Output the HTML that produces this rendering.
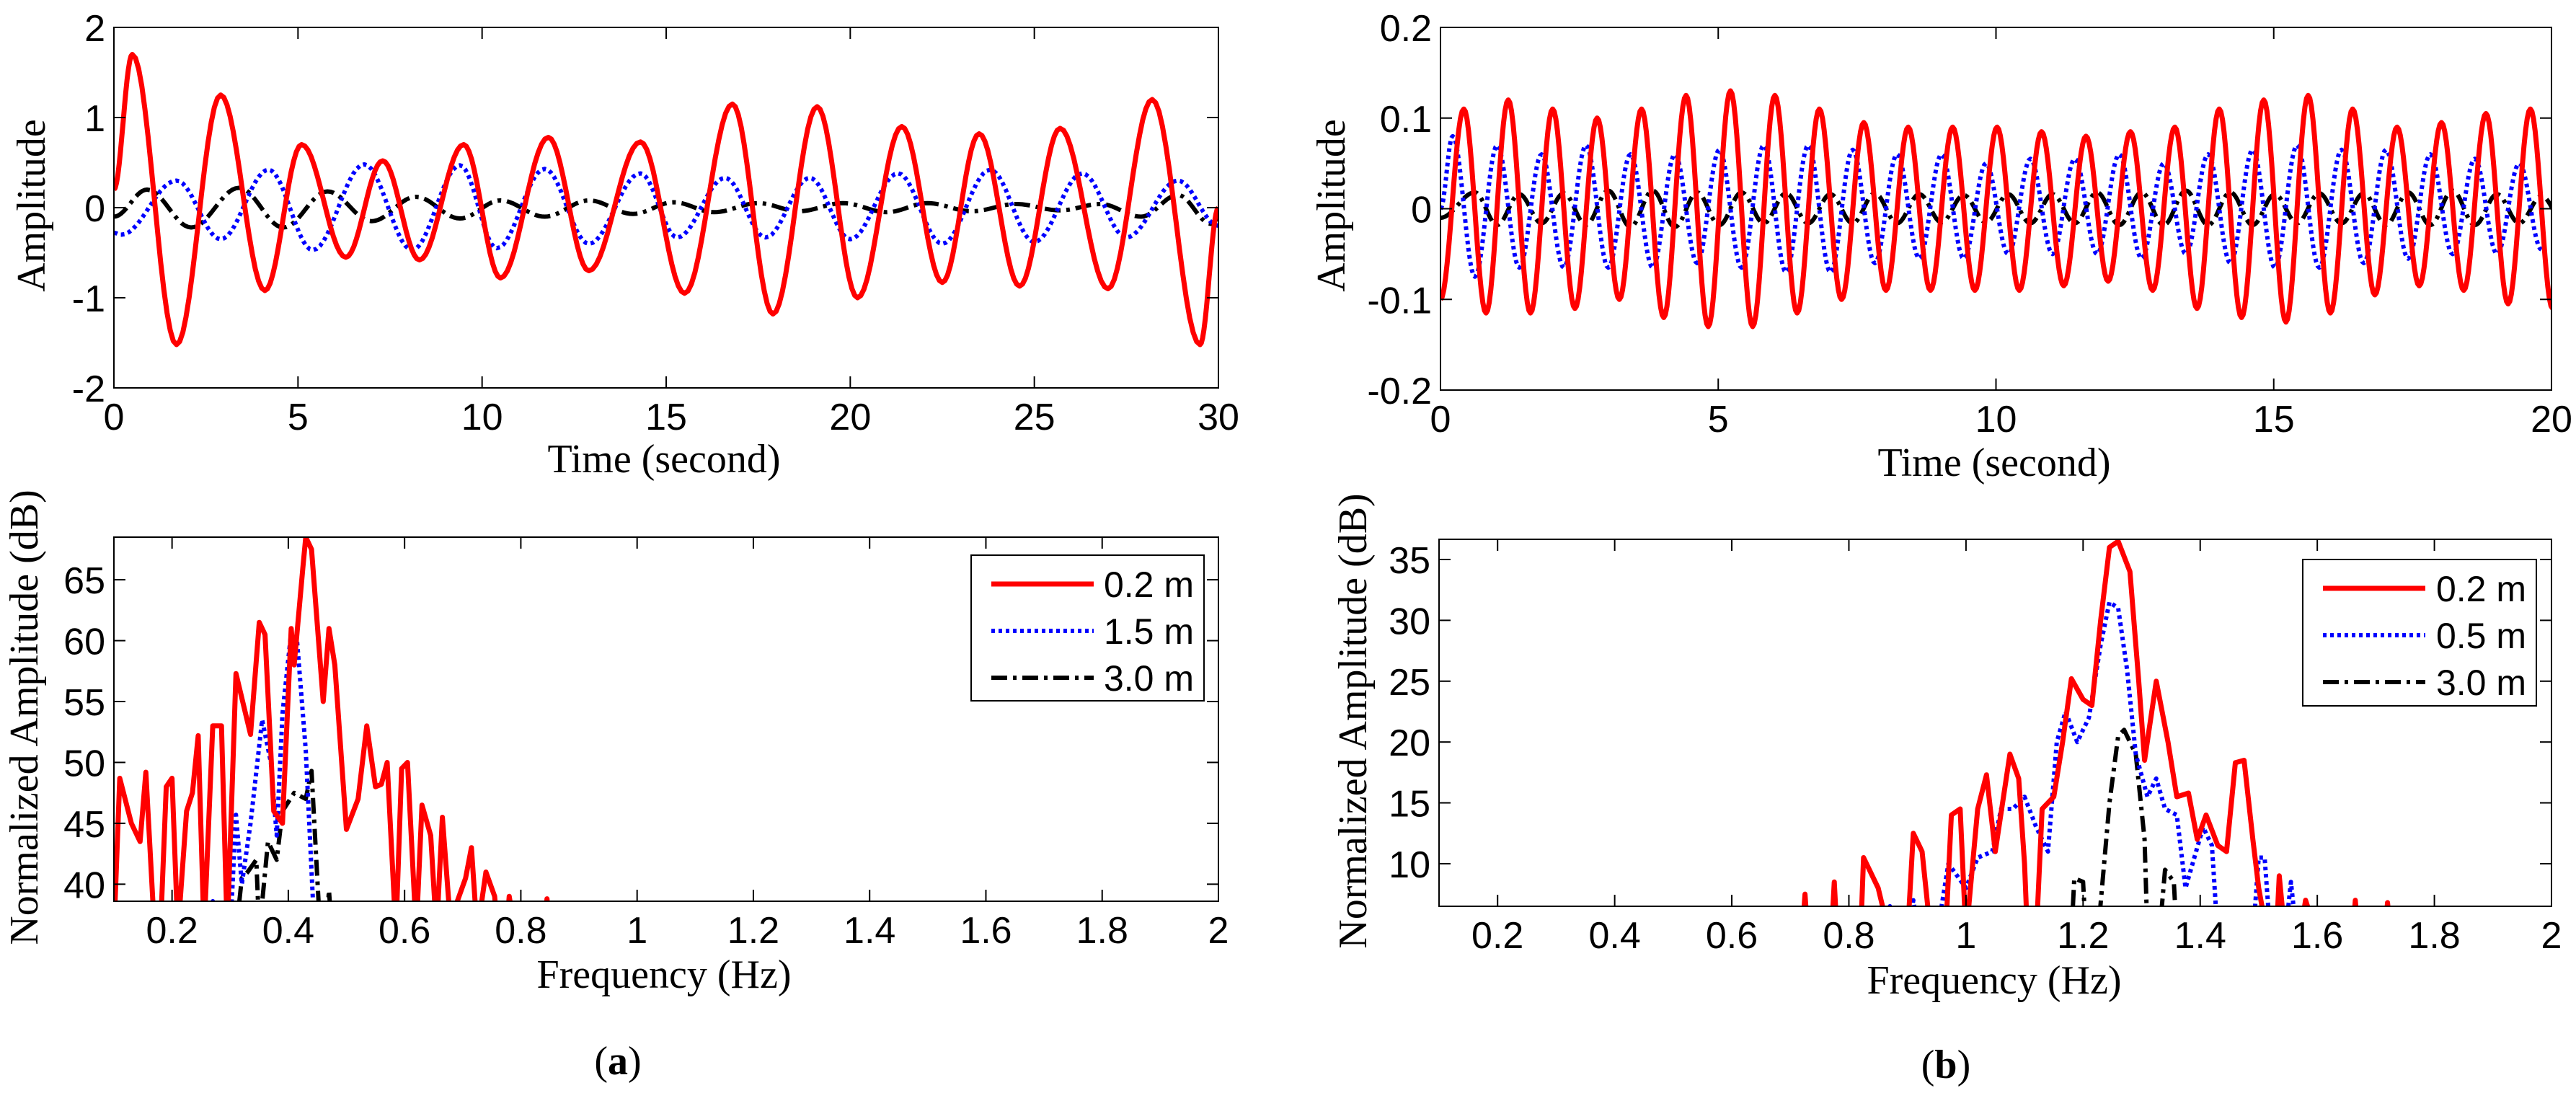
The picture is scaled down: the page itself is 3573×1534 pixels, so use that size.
<!DOCTYPE html>
<html><head><meta charset="utf-8"><style>
html,body{margin:0;padding:0;background:#fff;}
svg{display:block;}
.tick{font-family:"Liberation Sans",sans-serif;font-size:52px;fill:#000;}
.lab{font-family:"Liberation Serif",serif;font-size:56px;fill:#000;}
.leg{font-family:"Liberation Sans",sans-serif;font-size:50px;fill:#000;}
</style></head><body>
<svg id="fig" width="3573" height="1534" viewBox="0 0 3573 1534" xmlns="http://www.w3.org/2000/svg"></svg>
<script>
// ---------- DATA ----------
const aRedT=[0,0.5,1.7,2.9,4.1,5.1,6.3,7.3,8.3,9.5,10.5,11.8,12.9,14.3,15.5,16.8,17.9,19.1,20.2,21.4,22.5,23.5,24.6,25.7,27.0,28.2,29.5,30];
const aRedV=[0.2,1.7,-1.52,1.25,-0.92,0.7,-0.55,0.52,-0.58,0.7,-0.78,0.78,-0.7,0.73,-0.95,1.15,-1.18,1.12,-1.0,0.9,-0.83,0.82,-0.87,0.88,-0.9,1.2,-1.52,0.0];
const aBlueT=[0,0.2,1.7,2.9,4.2,5.4,6.8,8.1,9.4,10.4,11.7,12.9,14.3,15.3,16.6,17.7,18.9,20.0,21.3,22.5,23.8,25.0,26.3,27.5,28.9,30];
const aBlueV=[-0.28,-0.3,0.3,-0.35,0.42,-0.47,0.48,-0.47,0.47,-0.45,0.43,-0.4,0.38,-0.33,0.33,-0.33,0.33,-0.35,0.38,-0.4,0.42,-0.38,0.38,-0.33,0.3,-0.2];
const aBlackT=[0,0.9,2.1,3.4,4.6,5.8,7.0,8.2,9.4,10.5,11.7,12.9,14.1,15.2,16.3,17.5,18.6,19.8,21.0,22.1,23.3,24.5,25.7,26.8,27.9,28.9,29.8,30];
const aBlackV=[-0.1,0.2,-0.22,0.22,-0.22,0.18,-0.15,0.12,-0.12,0.08,-0.1,0.08,-0.07,0.06,-0.05,0.05,-0.04,0.05,-0.05,0.05,-0.04,0.04,-0.03,0.04,-0.1,0.14,-0.18,-0.12];
const bPeriod=0.8;
const bRedPeaks=[0.11,0.12,0.11,0.10,0.11,0.125,0.13,0.125,0.11,0.095,0.09,0.09,0.09,0.085,0.08,0.085,0.09,0.11,0.12,0.125,0.11,0.09,0.095,0.105,0.11];
const bRedTroughs=[-0.115,-0.115,-0.11,-0.10,-0.12,-0.13,-0.13,-0.115,-0.10,-0.09,-0.09,-0.09,-0.09,-0.085,-0.08,-0.09,-0.11,-0.12,-0.125,-0.115,-0.095,-0.085,-0.09,-0.105,-0.11];
const bRedStart=[0,-0.1];
const bRedPhase=0.42;
const bBluePeaks=[0.08,0.07,0.06,0.07,0.06,0.06,0.065,0.07,0.07,0.065,0.06,0.06,0.05,0.055,0.055,0.06,0.05,0.06,0.065,0.07,0.065,0.065,0.06,0.055,0.05];
const bBlueTroughs=[-0.075,-0.065,-0.065,-0.065,-0.065,-0.06,-0.065,-0.07,-0.07,-0.06,-0.055,-0.055,-0.05,-0.05,-0.05,-0.055,-0.05,-0.06,-0.065,-0.065,-0.06,-0.055,-0.05,-0.05,-0.045];
const bBlueStart=[0,0.0];
const bBluePhase=0.22;
const bBlackPeaks=[0.018,0.016,0.017,0.02,0.02,0.018,0.018,0.017,0.016,0.017,0.016,0.015,0.016,0.016,0.018,0.018,0.02,0.018,0.016,0.017,0.017,0.018,0.02,0.016,0.014];
const bBlackTroughs=[-0.018,-0.016,-0.018,-0.02,-0.02,-0.018,-0.016,-0.016,-0.016,-0.016,-0.015,-0.015,-0.016,-0.016,-0.018,-0.018,-0.018,-0.018,-0.016,-0.016,-0.018,-0.018,-0.018,-0.016,-0.014];
const bBlackStart=[0,-0.01];
const bBlackPhase=0.62;
const aRedF=[0.10,0.11,0.13,0.145,0.155,0.17,0.18,0.19,0.20,0.21,0.225,0.235,0.245,0.255,0.27,0.285,0.295,0.31,0.335,0.35,0.36,0.375,0.39,0.405,0.41,0.425,0.43,0.44,0.46,0.47,0.48,0.50,0.52,0.535,0.55,0.56,0.57,0.585,0.595,0.605,0.62,0.63,0.645,0.655,0.665,0.68,0.69,0.705,0.715,0.725,0.74,0.755,0.76,0.775,0.78,0.79,0.80,0.84,0.845,0.85];
const aRedDB=[36,48.7,45,43.5,49.2,36,36,48,48.7,36,46,47.5,52.2,36,53,53,36,57.3,52.3,61.5,60.5,46,45,61,58,66,68.5,67.5,55,61,58,44.5,47,53,48,48.2,50,36,49.5,50,36,46.5,44,36,45.5,36,38.5,40.5,43,36,41,39,36,36,39,36,36,36,38.8,36];
const aBlueF=[0.265,0.27,0.275,0.30,0.31,0.32,0.335,0.355,0.37,0.38,0.39,0.405,0.415,0.43,0.445];
const aBlueDB=[36,38.6,36,36,45.7,40,45,53.5,50,44,54,60.7,60,51,36];
const aBlackF=[0.31,0.32,0.33,0.345,0.35,0.365,0.38,0.39,0.41,0.43,0.44,0.455,0.465,0.47,0.475];
const aBlackDB=[36,40.5,41,42,36,43.5,42,46,47.5,47,49.3,36,36,39.5,36];
const bRedF=[0.72,0.725,0.73,0.77,0.775,0.78,0.82,0.825,0.85,0.87,0.90,0.91,0.925,0.94,0.965,0.975,0.99,1.0,1.02,1.035,1.05,1.075,1.09,1.10,1.105,1.12,1.13,1.15,1.165,1.18,1.20,1.215,1.23,1.245,1.26,1.28,1.295,1.305,1.325,1.345,1.36,1.38,1.395,1.41,1.43,1.445,1.46,1.475,1.49,1.50,1.515,1.53,1.535,1.545,1.57,1.58,1.60,1.66,1.665,1.67,1.715,1.72,1.725];
const bRedDB=[4,7.5,4,4,8.5,4,4,10.5,8,4,4,12.5,11,4,4,14,14.5,4,14.5,17.3,11,19,17,10,4,4,14.5,15.5,20,25.2,23.5,23,30,36,36.5,34,25,18.5,25,20,15.5,15.8,12,14,11.5,11,18.3,18.5,12,8,4,4,9,4,4,7,4,4,7,4,4,6.8,4];
const bBlueF=[0.86,0.87,0.88,0.90,0.91,0.92,0.95,0.97,0.985,1.0,1.02,1.045,1.06,1.08,1.10,1.12,1.14,1.155,1.17,1.19,1.21,1.23,1.245,1.26,1.275,1.29,1.31,1.325,1.34,1.36,1.375,1.39,1.405,1.42,1.43,1.49,1.50,1.51,1.52,1.545,1.555,1.565];
const bBlueDB=[4,6.5,4,4,7,4,4,10,9,8,10.5,11,14.5,14.5,15.5,13,11,20,22.5,20,22,28,31.5,31,26,19,15.5,17,14.5,14,8,10.5,13,11.5,4,4,10.5,10.5,4,4,8.5,4];
const bBlackF=[1.18,1.185,1.20,1.205,1.225,1.245,1.26,1.27,1.29,1.305,1.31,1.33,1.34,1.355,1.36];
const bBlackDB=[4,8.8,8.5,4,4,15,20.5,21,19,12,4,4,9.5,8.5,4];
const aTopXTicks=[0,5,10,15,20,25,30];
const aTopYTicks=[-2,-1,0,1,2];
const bTopXTicks=[0,5,10,15,20];
const bTopYTicks=[-0.2,-0.1,0,0.1,0.2];
const freqTicks=[0.2,0.4,0.6,0.8,1,1.2,1.4,1.6,1.8,2];
const aBotYTicks=[40,45,50,55,60,65];
const bBotYTicks=[10,15,20,25,30,35];
const aLegend=["0.2 m","1.5 m","3.0 m"];
const bLegend=["0.2 m","0.5 m","3.0 m"];

// ---------- DRAWING ----------
const NS="http://www.w3.org/2000/svg";
const svg=document.getElementById('fig');
let clipId=0;
function el(tag,attrs,parent){const e=document.createElementNS(NS,tag);for(const k in attrs)e.setAttribute(k,attrs[k]);(parent||svg).appendChild(e);return e;}
const STY={red:{stroke:'#ff0000','stroke-width':7,fill:'none'},blue:{stroke:'#0000ff','stroke-width':6,'stroke-dasharray':'5 5',fill:'none'},black:{stroke:'#000','stroke-width':6,'stroke-dasharray':'22 8 5 8',fill:'none'}};

function axes(name,x0,x1,y0,y1,xmin,xmax,ymin,ymax,xt,yt,fmtX,fmtY){
  const g=el('g',{});
  
  
  const sx=v=>x0+(v-xmin)/(xmax-xmin)*(x1-x0);
  const sy=v=>y1-(v-ymin)/(ymax-ymin)*(y1-y0);
  const cid='c'+(clipId++);
  const cp=el('clipPath',{id:cid},g);el('rect',{x:x0,y:y0,width:x1-x0,height:y1-y0},cp);
  el('rect',{x:x0,y:y0,width:x1-x0,height:y1-y0,fill:'#fff',stroke:'none'},g);
  const plot=el('g',{'clip-path':'url(#'+cid+')'},g);
  xt.forEach(v=>{const x=sx(v);
    el('line',{x1:x,x2:x,y1:y1,y2:y1-16,stroke:'#000','stroke-width':2},g);
    el('line',{x1:x,x2:x,y1:y0,y2:y0+16,stroke:'#000','stroke-width':2},g);
    const t=el('text',{x:x,y:y1+58,'text-anchor':'middle',class:'tick'},g);t.textContent=fmtX(v);
    
    });
  yt.forEach(v=>{const y=sy(v);
    el('line',{x1:x0,x2:x0+16,y1:y,y2:y,stroke:'#000','stroke-width':2},g);
    el('line',{x1:x1,x2:x1-16,y1:y,y2:y,stroke:'#000','stroke-width':2},g);
    const t=el('text',{x:x0-12,y:y+19,'text-anchor':'end',class:'tick'},g);t.textContent=fmtY(v);
    
    });
  return {g,plot,sx,sy,box:[x0,x1,y0,y1]};
}
function frame(ax){const[x0,x1,y0,y1]=ax.box;el('rect',{x:x0,y:y0,width:x1-x0,height:y1-y0,fill:'none',stroke:'#000','stroke-width':2},ax.g);}
function line(ax,xs,ys,sty,name){
  const d=xs.map((x,i)=>(i?'L':'M')+ax.sx(x).toFixed(1)+' '+ax.sy(ys[i]).toFixed(1)).join('');
  const p=el('path',Object.assign({d:d,'stroke-linejoin':'round'},STY[sty]),ax.plot);
  
  
}
function smooth(ts,vs){const X=[],Y=[];for(let i=0;i<ts.length-1;i++){for(let s=0;s<14;s++){const f=s/14;X.push(ts[i]+(ts[i+1]-ts[i])*f);Y.push(vs[i]+(vs[i+1]-vs[i])*(1-Math.cos(Math.PI*f))/2);}}X.push(ts[ts.length-1]);Y.push(vs[vs.length-1]);return[X,Y];}
function cycles(start,phase,peaks,troughs){const T=[start[0]],V=[start[1]];peaks.forEach((p,i)=>{T.push(phase+i*bPeriod);V.push(p);T.push(phase+i*bPeriod+bPeriod/2);V.push(troughs[i]);});return[T,V];}
function label(txt,x,y,rot,name,cls,extra){const t=el('text',Object.assign({x:x,y:y,'text-anchor':'middle',class:cls||'lab'},extra||{}));if(rot)t.setAttribute('transform','rotate(-90 '+x+' '+y+')');t.textContent=txt;
  
  return t;}
function legend(ax,x0,y0,x1,y1,labels,name){
  const g=el('g',{},ax.g);
  
  
  el('rect',{x:x0,y:y0,width:x1-x0,height:y1-y0,fill:'#fff',stroke:'#000','stroke-width':2},g);
  ['red','blue','black'].forEach((s,i)=>{const y=y0+40+i*65;
    el('line',Object.assign({x1:x0+28,x2:x0+170,y1:y,y2:y},STY[s]),g);
    const t=el('text',{x:x1-14,y:y+18,'text-anchor':'end',class:'leg'},g);t.textContent=labels[i];
    
    });
}
const f0=v=>String(v), f1=v=>(v===0?'0':v.toFixed(1)), fF=v=>(Number.isInteger(v)?String(v):v.toFixed(1));

let A=axes('time-plot-a',158,1690,38,538,0,30,-2,2,aTopXTicks,aTopYTicks,f0,f0);
[[aBlackT,aBlackV,'black','series-3m'],[aBlueT,aBlueV,'blue','series-1-5m'],[aRedT,aRedV,'red','series-0-2m']].forEach(s=>{const[X,Y]=smooth(s[0],s[1]);line(A,X,Y,s[2],s[3]);});
frame(A);
let B=axes('spectrum-plot-a',158,1690,745,1250,0.1,2,38.6,68.5,freqTicks,aBotYTicks,fF,f0);
line(B,aBlackF,aBlackDB,'black','spectrum-3m');line(B,aBlueF,aBlueDB,'blue','spectrum-1-5m');line(B,aRedF,aRedDB,'red','spectrum-0-2m');
frame(B);legend(B,1347,770,1670,972,aLegend,'legend-a');
let C=axes('time-plot-b',1998,3539,38,541,0,20,-0.2,0.2,bTopXTicks,bTopYTicks,f0,f1);
[[cycles(bBlackStart,bBlackPhase,bBlackPeaks,bBlackTroughs),'black','series-3m'],[cycles(bBlueStart,bBluePhase,bBluePeaks,bBlueTroughs),'blue','series-0-5m'],[cycles(bRedStart,bRedPhase,bRedPeaks,bRedTroughs),'red','series-0-2m']].forEach(s=>{const[X,Y]=smooth(s[0][0],s[0][1]);line(C,X,Y,s[1],s[2]);});
frame(C);
let D=axes('spectrum-plot-b',1996,3539,748,1257,0.1,2,6.5,36.66,freqTicks,bBotYTicks,fF,f0);
line(D,bBlackF,bBlackDB,'black','spectrum-3m');line(D,bBlueF,bBlueDB,'blue','spectrum-0-5m');line(D,bRedF,bRedDB,'red','spectrum-0-2m');
frame(D);legend(D,3194,776,3518,979,bLegend,'legend-b');

label('Amplitude',62,285,true,'y-axis-title-a');
label('Time (second)',921,655,false,'x-axis-title-a');
label('Normalized Amplitude (dB)',52,995,true,'y-axis-title-a-bottom');
label('Frequency (Hz)',921,1370,false,'x-axis-title-a-bottom');
label('Amplitude',1865,285,true,'y-axis-title-b');
label('Time (second)',2766,660,false,'x-axis-title-b');
label('Normalized Amplitude (dB)',1895,1000,true,'y-axis-title-b-bottom');
label('Frequency (Hz)',2766,1378,false,'x-axis-title-b-bottom');
const pa=label('',857,1490,false,'panel-label-a','lab',{'font-size':'100'});pa.innerHTML='(<tspan font-weight="bold">a</tspan>)';
const pb=label('',2699,1495,false,'panel-label-b','lab',{'font-size':'100'});pb.innerHTML='(<tspan font-weight="bold">b</tspan>)';
</script>
</body></html>
